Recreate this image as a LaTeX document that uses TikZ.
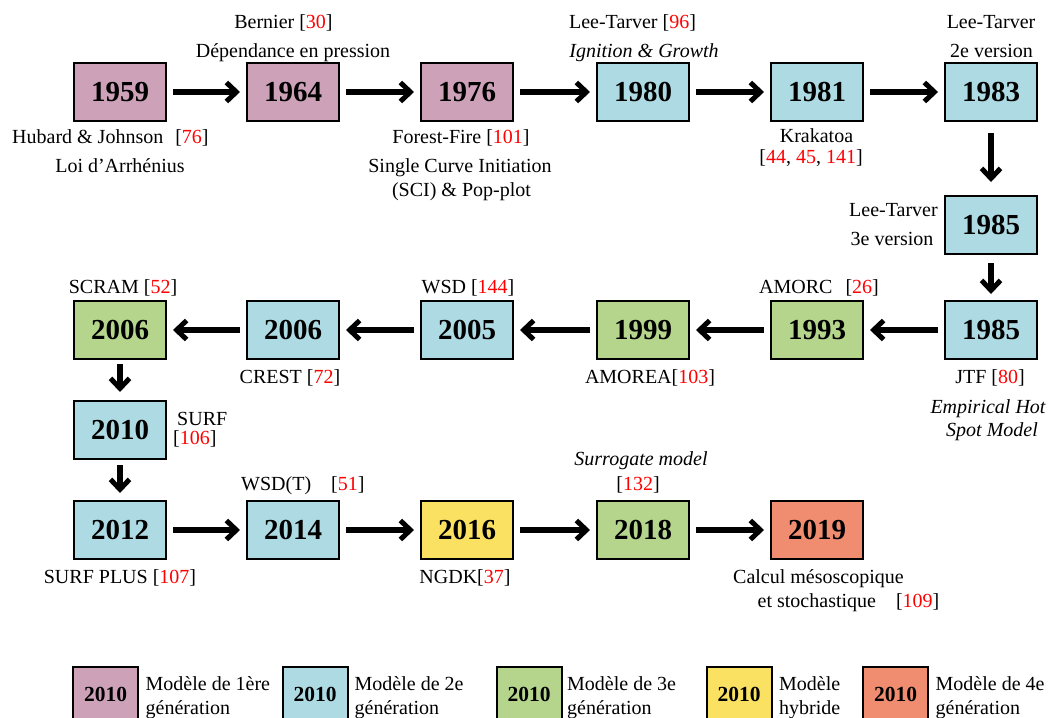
\documentclass[tikz,border=0pt]{standalone}
\usepackage{fontspec}
\setmainfont{Liberation Serif}
\usetikzlibrary{arrows.meta}
\definecolor{gpink}{HTML}{CDA2B9}
\definecolor{gblue}{HTML}{AEDBE3}
\definecolor{ggreen}{HTML}{B5D58D}
\definecolor{gyellow}{HTML}{FAE162}
\definecolor{gsalmon}{HTML}{F08C70}
\definecolor{refred}{HTML}{FF0000}
\newcommand{\refn}[1]{[\textcolor{refred}{#1}]}
\begin{document}
\begin{tikzpicture}[x=1pt,y=-1pt,
  yr/.style={draw=black, line width=2pt, minimum width=92pt, minimum height=58pt, inner sep=0pt, font=\fontsize{29}{34}\selectfont\bfseries},
  lbl/.style={inner sep=0pt, font=\fontsize{20}{24}\selectfont, anchor=base},
  lblw/.style={lbl, anchor=base west},
  arr/.style={line width=5.5pt, -{Straight Barb[length=10pt,width=19pt,line width=5pt,line join=miter,line cap=butt]}},
  legbox/.style={draw=black, line width=2pt, minimum width=65pt, minimum height=54pt, inner sep=0pt, font=\fontsize{21.5}{26}\selectfont\bfseries},
]
\useasboundingbox (0,0) rectangle (1056,717);
\clip (0,0) rectangle (1056,717);

% ---- row 1
\node[yr, fill=gpink] (y1959) at (120,92) {1959};
\node[yr, fill=gpink] (y1964) at (293,92) {1964};
\node[yr, fill=gpink] (y1976) at (467,92) {1976};
\node[yr, fill=gblue] (y1980) at (643,92) {1980};
\node[yr, fill=gblue] (y1981) at (817,92) {1981};
\node[yr, fill=gblue] (y1983) at (991,92) {1983};
\node[yr, fill=gblue] (y1985a) at (991,225) {1985};
% ---- row 2
\node[yr, fill=gblue] (y1985b) at (991,330) {1985};
\node[yr, fill=ggreen] (y1993) at (817,330) {1993};
\node[yr, fill=ggreen] (y1999) at (643,330) {1999};
\node[yr, fill=gblue] (y2005) at (467,330) {2005};
\node[yr, fill=gblue] (y2006b) at (293,330) {2006};
\node[yr, fill=ggreen] (y2006g) at (120,330) {2006};
\node[yr, fill=gblue] (y2010) at (120,430) {2010};
% ---- row 3
\node[yr, fill=gblue] (y2012) at (120,530) {2012};
\node[yr, fill=gblue] (y2014) at (293,530) {2014};
\node[yr, fill=gyellow] (y2016) at (467,530) {2016};
\node[yr, fill=ggreen] (y2018) at (643,530) {2018};
\node[yr, fill=gsalmon] (y2019) at (817,530) {2019};

% ---- arrows
\draw[arr, shorten <=6pt, shorten >=6pt] (y1959.east) -- (y1964.west);
\draw[arr, shorten <=6pt, shorten >=6pt] (y1964.east) -- (y1976.west);
\draw[arr, shorten <=6pt, shorten >=6pt] (y1976.east) -- (y1980.west);
\draw[arr, shorten <=6pt, shorten >=6pt] (y1980.east) -- (y1981.west);
\draw[arr, shorten <=6pt, shorten >=6pt] (y1981.east) -- (y1983.west);
\draw[arr, shorten <=11pt, shorten >=13pt] (y1983.south) -- (y1985a.north);
\draw[arr, shorten <=8pt, shorten >=6pt] (y1985a.south) -- (y1985b.north);
\draw[arr, shorten <=6pt, shorten >=6pt] (y1985b.west) -- (y1993.east);
\draw[arr, shorten <=6pt, shorten >=6pt] (y1993.west) -- (y1999.east);
\draw[arr, shorten <=6pt, shorten >=6pt] (y1999.west) -- (y2005.east);
\draw[arr, shorten <=6pt, shorten >=6pt] (y2005.west) -- (y2006b.east);
\draw[arr, shorten <=6pt, shorten >=6pt] (y2006b.west) -- (y2006g.east);
\draw[arr, shorten <=4pt, shorten >=8pt] (y2006g.south) -- (y2010.north);
\draw[arr, shorten <=5pt, shorten >=7pt] (y2010.south) -- (y2012.north);
\draw[arr, shorten <=6pt, shorten >=6pt] (y2012.east) -- (y2014.west);
\draw[arr, shorten <=6pt, shorten >=6pt] (y2014.east) -- (y2016.west);
\draw[arr, shorten <=6pt, shorten >=6pt] (y2016.east) -- (y2018.west);
\draw[arr, shorten <=6pt, shorten >=6pt] (y2018.east) -- (y2019.west);

% ---- labels row 1
\node[lbl] (lBern) at (283.5,29) {Bernier \refn{30}};
\node[lbl] (lDep) at (293,57) {Dépendance en pression};
\node[lbl] (lLT96) at (632.5,29) {Lee-Tarver \refn{96}};
\node[lbl] (lIG) at (644,57) {\itshape Ignition \& Growth};
\node[lbl] (lLT2) at (991,29) {Lee-Tarver};
\node[lbl] (lLT2b) at (991.5,57) {2e version};
\node[lblw] (lHub) at (12,143) {Hubard \& Johnson\hspace{12pt}\refn{76}};
\node[lbl] (lLoi) at (120,172) {Loi d’Arrhénius};
\node[lbl] (lFF) at (461,143) {Forest-Fire \refn{101}};
\node[lbl] (lSCI) at (460,172) {Single Curve Initiation};
\node[lbl] (lSCIb) at (461.5,196) {(SCI) \& Pop-plot};
\node[lbl] (lKrak) at (816.5,142) {Krakatoa};
\node[lbl] (lKrakb) at (811,163) {[\textcolor{refred}{44}, \textcolor{refred}{45}, \textcolor{refred}{141}]};
\node[lblw] (lLT3) at (849,216) {Lee-Tarver};
\node[lblw] (lLT3b) at (850.5,245) {3e version};

% ---- labels row 2
\node[lbl] (lSCRAM) at (123,293) {SCRAM \refn{52}};
\node[lbl] (lWSD) at (468,293) {WSD \refn{144}};
\node[lblw] (lAMORC) at (759,293) {AMORC\hspace{13pt}\refn{26}};
\node[lbl] (lCREST) at (290,383) {CREST \refn{72}};
\node[lbl] (lAMOREA) at (650,383) {AMOREA\refn{103}};
\node[lbl] (lJTF) at (990,383) {JTF \refn{80}};
\node[lbl] (lEmp) at (988,413) {\itshape Empirical Hot};
\node[lbl] (lEmpb) at (992,436) {\itshape Spot Model};
\node[lblw] (lSURF) at (177,425) {SURF};
\node[lblw] (lSURFb) at (173,444) {\refn{106}};

% ---- labels row 3
\node[lblw] (lWSDT) at (241,490) {WSD(T)\hspace{20pt}\refn{51}};
\node[lbl] (lSurr) at (641,465) {\itshape Surrogate model};
\node[lbl] (lSurrb) at (638,490) {\refn{132}};
\node[lbl] (lSP) at (120,583) {SURF PLUS \refn{107}};
\node[lbl] (lNGDK) at (465,583) {NGDK\refn{37}};
\node[lblw] (lCalc) at (733,583) {Calcul mésoscopique};
\node[lblw] (lCalcb) at (757.5,607.5) {et stochastique\hspace{20pt}\refn{109}};

% ---- legend
\node[legbox, fill=gpink] (k1) at (105.5,694) {2010};
\node[legbox, fill=gblue] (k2) at (315,694) {2010};
\node[legbox, fill=ggreen] (k3) at (529,694) {2010};
\node[legbox, fill=gyellow] (k4) at (739,694) {2010};
\node[legbox, fill=gsalmon] (k5) at (895.5,694) {2010};
\node[lblw] (t1a) at (145.5,690) {Modèle de 1ère};
\node[lblw] (t1b) at (145.5,714) {génération};
\node[lblw] (t2a) at (354.5,690) {Modèle de 2e};
\node[lblw] (t2b) at (354.5,714) {génération};
\node[lblw] (t3a) at (567,690) {Modèle de 3e};
\node[lblw] (t3b) at (567,714) {génération};
\node[lblw] (t4a) at (779,690) {Modèle};
\node[lblw] (t4b) at (779,714) {hybride};
\node[lblw] (t5a) at (935.5,690) {Modèle de 4e};
\node[lblw] (t5b) at (935.5,714) {génération};
\end{tikzpicture}
\end{document}
